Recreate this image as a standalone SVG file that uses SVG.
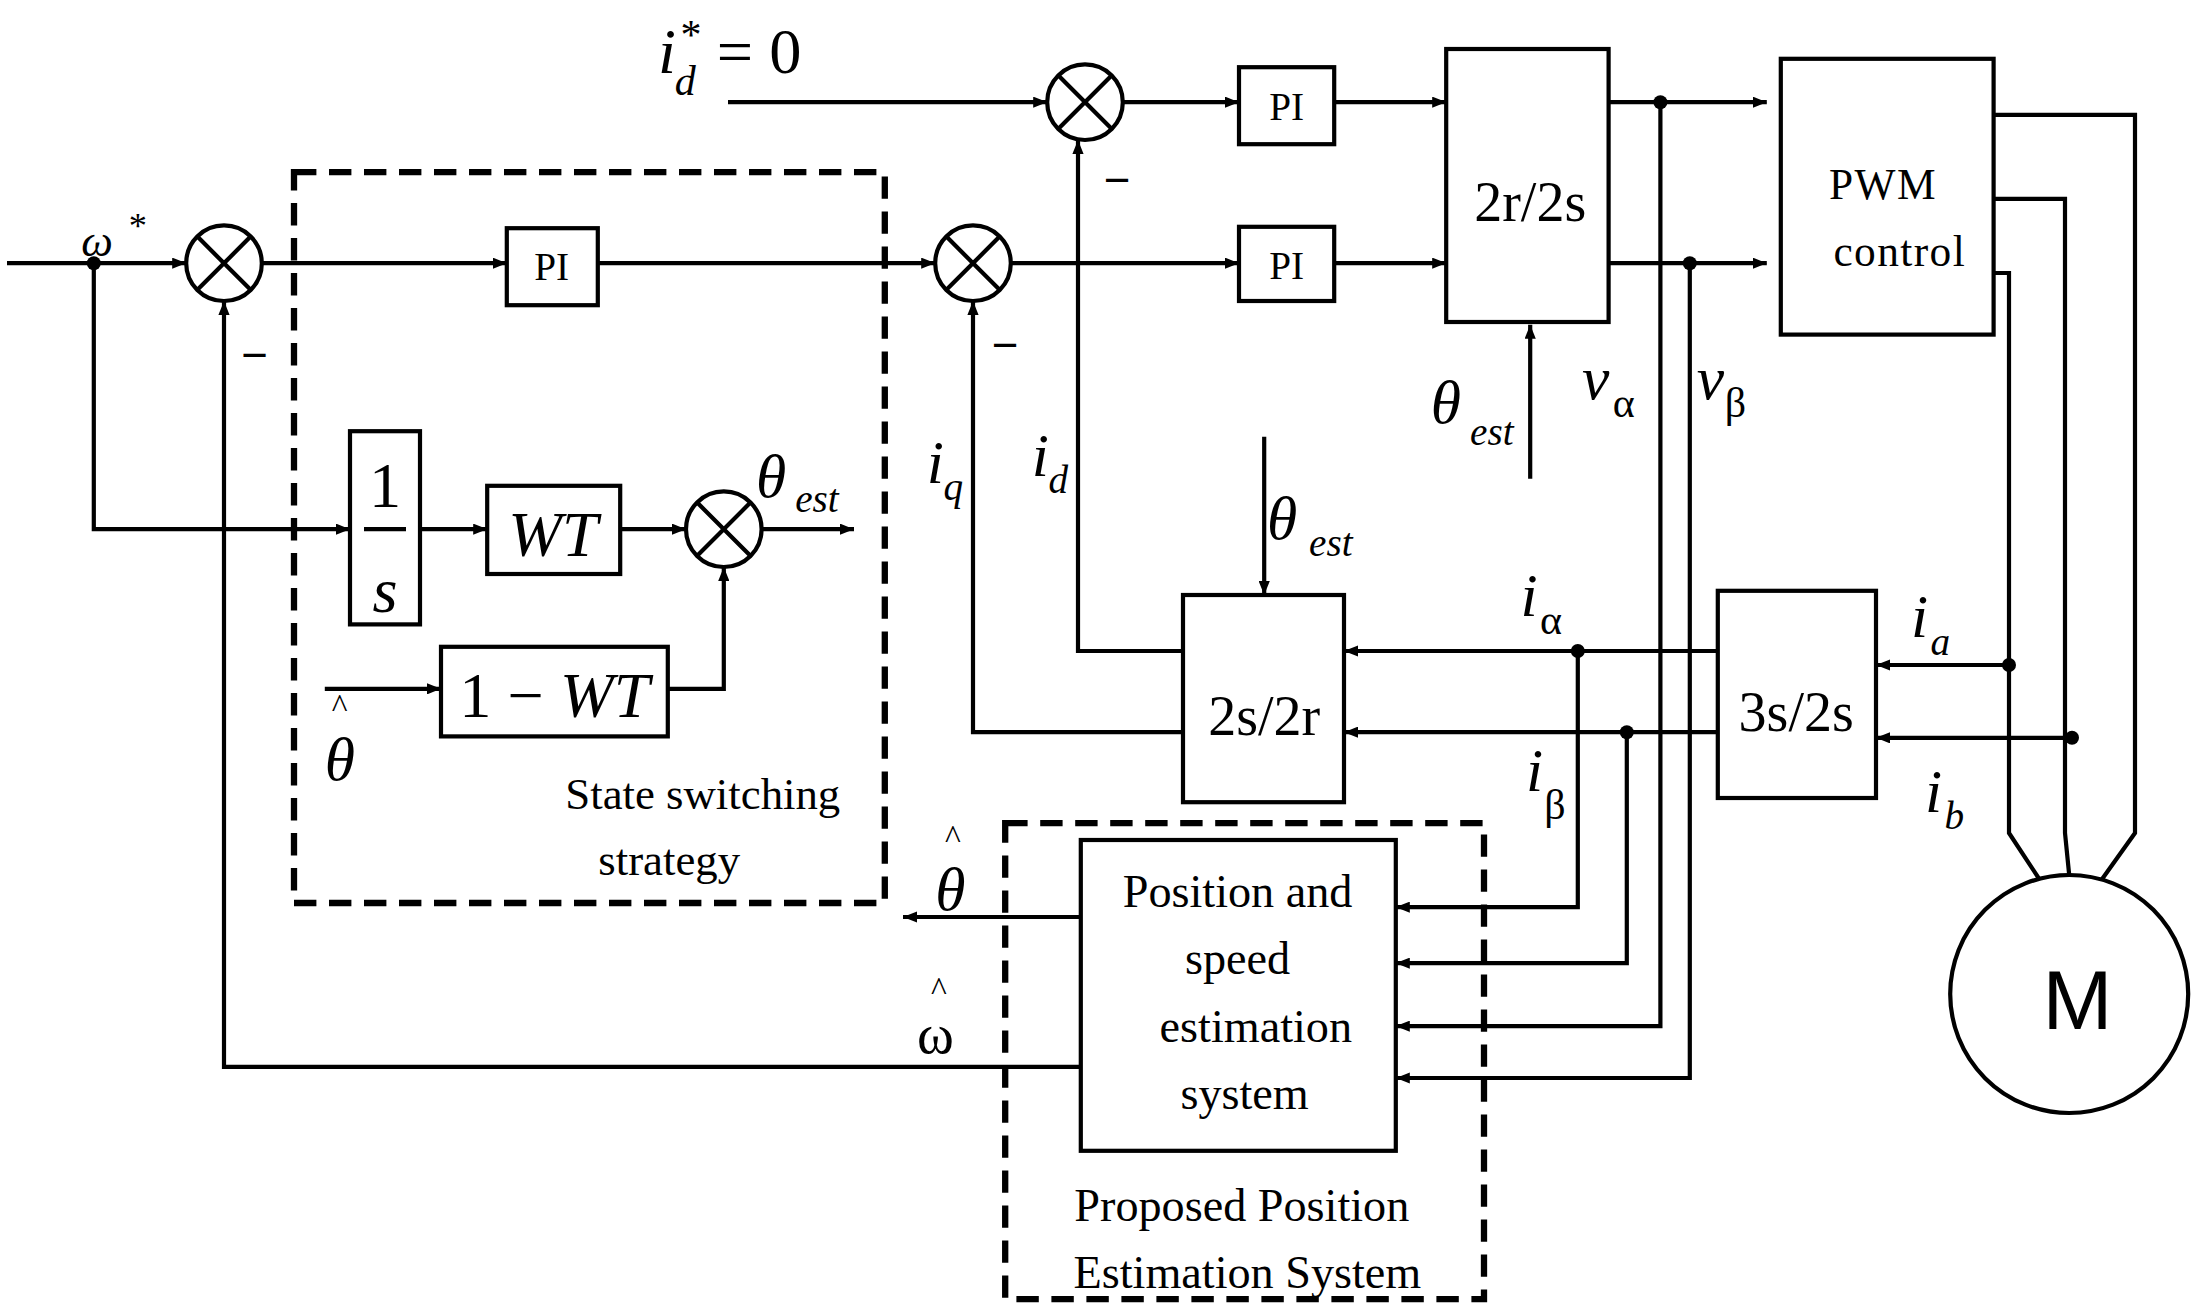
<svg xmlns="http://www.w3.org/2000/svg" width="2195" height="1314" viewBox="0 0 2195 1314">
<defs>
<marker id="ar" markerWidth="10" markerHeight="8" refX="10" refY="4" orient="auto" markerUnits="userSpaceOnUse"><path d="M0,0 L10,4 L0,8 Z" fill="#000"/></marker>
<g id="sum"><circle r="27" fill="#fff" stroke="#000" stroke-width="3"/><path d="M-19,-19 L19,19 M19,-19 L-19,19" stroke="#000" stroke-width="3"/></g>
</defs>
<style>
.l{fill:none;stroke:#000;stroke-width:3}
.a{fill:none;stroke:#000;stroke-width:3;marker-end:url(#ar)}
.b{fill:#fff;stroke:#000;stroke-width:3}
.d{fill:none;stroke:#000;stroke-width:4.5;stroke-dasharray:16 9}
text{font-family:"Liberation Serif",serif;fill:#000}
.i{font-style:italic}
</style>
<rect width="2195" height="1314" fill="#fff"/>
<g transform="scale(1.4)">
<g id="connectors">
<path class="a" d="M5,188 H133"/><circle cx="67" cy="188" r="5"/>
<path class="a" d="M187,188 H362"/>
<path class="a" d="M427,188 H668"/>
<path class="a" d="M67,188 V378 H250"/>
<path class="a" d="M300,378 H348"/>
<path class="a" d="M443,378 H490"/>
<path class="a" d="M544,378 H610"/>
<path class="a" d="M232,492 H315"/>
<path class="a" d="M477,492 H517 V405"/>
<path class="a" d="M722,188 H885"/>
<path class="a" d="M953,188 H1033"/>
<path class="a" d="M520,73 H748"/>
<path class="a" d="M802,73 H885"/>
<path class="a" d="M953,73 H1033"/>
<path class="a" d="M1093,342 V232"/>
<path class="a" d="M1149,73 H1262"/><circle cx="1186" cy="73" r="5"/>
<path class="a" d="M1149,188 H1262"/><circle cx="1207" cy="188" r="5"/>
<path class="l" d="M1424,82 H1525 V595 L1500,630"/>
<path class="l" d="M1424,142 H1475 V595 L1478,625"/>
<path class="l" d="M1424,195 H1435 V595 L1458,630"/>
<path class="a" d="M1435,475 H1340"/><circle cx="1435" cy="475" r="5"/>
<path class="a" d="M1480,527 H1340"/><circle cx="1480" cy="527" r="5"/>
<path class="a" d="M1227,465 H960"/><circle cx="1127" cy="465" r="5"/>
<path class="a" d="M1227,523 H960"/><circle cx="1162" cy="523" r="5"/>
<path class="a" d="M903,312 V425"/>
<path class="a" d="M845,465 H770 V100"/>
<path class="a" d="M845,523 H695 V215"/>
<path class="a" d="M1127,465 V648 H997"/>
<path class="a" d="M1162,523 V688 H997"/>
<path class="a" d="M1186,73 V733 H997"/>
<path class="a" d="M1207,188 V770 H997"/>
<path class="a" d="M772,655 H645"/>
<path class="a" d="M772,762 H160 V215"/>
</g>
<g id="sum1"><use href="#sum" x="160" y="188"/></g>
<g id="sum2"><use href="#sum" x="695" y="188"/></g>
<g id="sum3"><use href="#sum" x="517" y="378"/></g>
<g id="sum4"><use href="#sum" x="775" y="73"/></g>
<g id="pi1"><rect class="b" x="362" y="163" width="65" height="55"/><text x="394" y="200" font-size="28" text-anchor="middle">PI</text></g>
<g id="pi2"><rect class="b" x="885" y="162" width="68" height="53"/><text x="919" y="199" font-size="28" text-anchor="middle">PI</text></g>
<g id="pi3"><rect class="b" x="885" y="48" width="68" height="55"/><text x="919" y="86" font-size="28" text-anchor="middle">PI</text></g>
<g id="integ"><rect class="b" x="250" y="308" width="50" height="138"/><text x="275" y="362" font-size="46" text-anchor="middle">1</text><path class="l" d="M260,378 H290"/><text x="275" y="437" font-size="46" class="i" text-anchor="middle">s</text></g>
<g id="wt"><rect class="b" x="348" y="347" width="95" height="63"/><text x="395" y="397" font-size="46" class="i" text-anchor="middle">WT</text></g>
<g id="onewt"><rect class="b" x="315" y="462" width="162" height="64"/><text x="396" y="512" font-size="46" text-anchor="middle">1 − <tspan class="i">WT</tspan></text></g>
<g id="r2s"><rect class="b" x="1033" y="35" width="116" height="195"/><text x="1093" y="158" font-size="40" text-anchor="middle">2r/2s</text></g>
<g id="pwm"><rect class="b" x="1272" y="42" width="152" height="197"/><text x="1345" y="142" font-size="31" text-anchor="middle" letter-spacing="1">PWM</text><text x="1357" y="190" font-size="31" text-anchor="middle" letter-spacing="1">control</text></g>
<g id="motor"><circle class="b" cx="1478" cy="710" r="85"/><text x="1484" y="735" font-size="60" text-anchor="middle" style="font-family:'Liberation Sans',sans-serif">M</text></g>
<g id="s3s2"><rect class="b" x="1227" y="422" width="113" height="148"/><text x="1283" y="522" font-size="40" text-anchor="middle">3s/2s</text></g>
<g id="s2r"><rect class="b" x="845" y="425" width="115" height="148"/><text x="903" y="525" font-size="40" text-anchor="middle">2s/2r</text></g>
<g id="est"><rect class="b" x="772" y="600" width="225" height="222"/>
<text x="884" y="648" font-size="33" text-anchor="middle">Position and</text>
<text x="884" y="696" font-size="33" text-anchor="middle">speed</text>
<text x="897" y="744" font-size="33" text-anchor="middle">estimation</text>
<text x="889" y="792" font-size="33" text-anchor="middle">system</text></g>
<g id="dash1"><rect class="d" x="210" y="123" width="422" height="522"/><text x="502" y="578" font-size="32" text-anchor="middle">State switching</text><text x="478" y="625" font-size="32" text-anchor="middle">strategy</text></g>
<g id="dash2"><rect class="d" x="718" y="588" width="342" height="340"/><text x="887" y="872" font-size="33" text-anchor="middle">Proposed Position</text><text x="891" y="920" font-size="33" text-anchor="middle">Estimation System</text></g>
<g id="labels" font-size="40">
<text x="58" y="183" class="i" font-size="32">ω</text><text x="92" y="170" font-size="26">*</text>
<text x="172" y="265" font-size="34" font-weight="bold">−</text>
<text x="708" y="258" font-size="34" font-weight="bold">−</text>
<text x="788" y="140" font-size="34" font-weight="bold">−</text>
<text x="470" y="52" class="i" font-size="46">i</text><text x="482" y="68" class="i" font-size="30">d</text><text x="486" y="35" font-size="30">*</text><text x="512" y="52" font-size="46">= 0</text>
<text x="540" y="355" class="i" font-size="44">θ</text><text x="568" y="366" class="i" font-size="28">est</text>
<text x="232" y="557" class="i" font-size="44">θ</text><text x="237" y="512" font-size="24">^</text>
<text x="1022" y="302" class="i" font-size="44">θ</text><text x="1050" y="318" class="i" font-size="28">est</text>
<text x="905" y="385" class="i" font-size="44">θ</text><text x="935" y="397" class="i" font-size="28">est</text>
<text x="1130" y="285" class="i" font-size="44">v</text><text x="1152" y="298" font-size="30">α</text>
<text x="1212" y="285" class="i" font-size="44">v</text><text x="1232" y="298" font-size="30">β</text>
<text x="662" y="345" class="i" font-size="44">i</text><text x="674" y="357" class="i" font-size="28">q</text>
<text x="737" y="340" class="i" font-size="44">i</text><text x="749" y="352" class="i" font-size="28">d</text>
<text x="1086" y="440" class="i" font-size="44">i</text><text x="1100" y="453" font-size="30">α</text>
<text x="1090" y="565" class="i" font-size="44">i</text><text x="1103" y="585" font-size="30">β</text>
<text x="1365" y="455" class="i" font-size="44">i</text><text x="1379" y="468" class="i" font-size="28">a</text>
<text x="1375" y="580" class="i" font-size="44">i</text><text x="1389" y="592" class="i" font-size="28">b</text>
<text x="668" y="650" class="i" font-size="44">θ</text><text x="675" y="606" font-size="24">^</text>
<text x="655" y="752" font-size="40">ω</text><text x="665" y="714" font-size="24">^</text>
</g>
</g>
</svg>
